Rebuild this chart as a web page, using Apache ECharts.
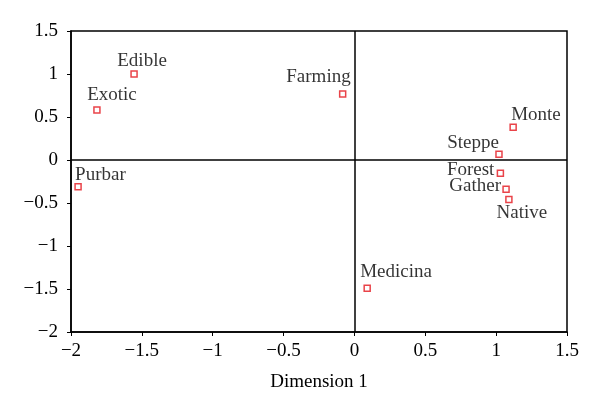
<!DOCTYPE html>
<html><head><meta charset="utf-8">
<script src="https://cdn.jsdelivr.net/npm/echarts@6/dist/echarts.min.js"></script>
<style>html,body{margin:0;padding:0;background:#fff}#c{width:600px;height:414px}</style>
</head><body><div id="c"></div>
<script>
var names = ["Edible","Exotic","Purbar","Farming","Monte","Steppe","Forest","Gather","Native","Medicina"];
var dim1 = [-1.555,-1.817,-1.95,-0.083,1.12,1.02,1.03,1.07,1.09,0.09];
var dim2 = [1.0,0.58,-0.31,0.768,0.38,0.066,-0.155,-0.34,-0.46,-1.49];
var xTicks = [-2,-1.5,-1,-0.5,0,0.5,1,1.5];
var yTicks = [-2,-1.5,-1,-0.5,0,0.5,1,1.5];

// label placement styles (alignment and pixel offset from the point)
var labelAlign = ["center","center","left","right","left","right","right","right","center","left"];
var labelOffset = [[8,-13],[15,-15],[-3,-12],[8,-17],[-2,-12],[0,-11],[-6,-3],[-5,-3],[13,13],[-7,-16]];

var font = '"Liberation Serif","DejaVu Serif",serif';
var data = names.map(function(n,i){
  return {value:[dim1[i],dim2[i]], label:{show:true, formatter:n, position:'inside',
    align:labelAlign[i], verticalAlign:'middle', offset:labelOffset[i]}};
});
function fmt(v){ return String(v).replace('-','\u2212'); }
var chart = echarts.init(document.getElementById('c'));
chart.setOption({
  animation:false,
  textStyle:{fontFamily:font},
  grid:{left:71,top:31,right:33,bottom:82,show:true,borderColor:'#000',borderWidth:1.5,backgroundColor:'transparent'},
  xAxis:{type:'value',min:xTicks[0],max:xTicks[xTicks.length-1],interval:0.5,
    name:'Dimension 1',nameLocation:'middle',nameGap:41,
    nameTextStyle:{fontFamily:font,fontSize:19,color:'#000'},
    axisLine:{onZero:false,lineStyle:{color:'#000',width:1.5}},
    axisTick:{show:true,length:4,lineStyle:{color:'#000'}},
    axisLabel:{formatter:fmt,fontFamily:font,fontSize:19,color:'#000',margin:10},
    splitLine:{show:false}},
  yAxis:{type:'value',min:yTicks[0],max:yTicks[yTicks.length-1],interval:0.5,
    axisLine:{onZero:false,lineStyle:{color:'#000',width:1.5}},
    axisTick:{show:true,length:4,lineStyle:{color:'#000'}},
    axisLabel:{formatter:fmt,fontFamily:font,fontSize:19,color:'#000',margin:13},
    splitLine:{show:false}},
  series:[{
    type:'scatter',
    symbol:'rect',symbolSize:6,
    itemStyle:{color:'#fff',borderColor:'#e3141b',borderWidth:1.5},
    label:{fontFamily:font,fontSize:19,color:'#000'},
    data:data,
    markLine:{silent:true,symbol:'none',label:{show:false},
      lineStyle:{color:'#000',type:'solid',width:1.5},
      data:[{xAxis:0},{yAxis:0}]}
  }]
});
</script></body></html>
